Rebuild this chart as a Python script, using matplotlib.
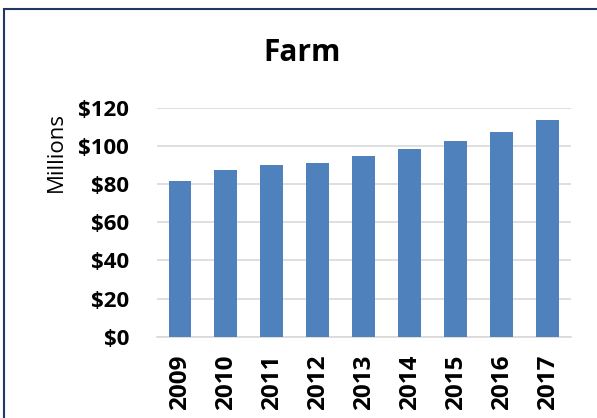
import matplotlib
matplotlib.use("Agg")
import matplotlib.pyplot as plt
from matplotlib.patches import Rectangle

years = ["2009", "2010", "2011", "2012", "2013", "2014", "2015", "2016", "2017"]
values = [81.4, 87.3, 89.9, 90.9, 94.6, 98.1, 102.7, 107.1, 113.4]
y_ticks = [0, 20, 40, 60, 80, 100, 120]

plt.rcParams['font.family'] = ['Open Sans', 'DejaVu Sans']

fig = plt.figure(figsize=(5.97, 4.18), dpi=100)
ax = fig.add_axes([0.263, 0.1945, 0.693, 0.548])

ax.bar(range(len(years)), values, width=0.5, color="#4f81bd", zorder=3)
ax.set_xlim(-0.5, len(years) - 0.5)
ax.set_ylim(0, 120)
ax.set_yticks(y_ticks)
ax.set_yticklabels(["$%d" % v for v in y_ticks], fontsize=16, fontweight="bold")
ax.set_xticks(range(len(years)))
ax.set_xticklabels(years, rotation=90, fontsize=17.5, fontweight="bold")
ax.tick_params(axis="y", length=0, pad=20)
ax.tick_params(axis="x", length=0, pad=13)
ax.grid(axis="y", color="#d9d9d9", linewidth=1.2, zorder=0)
for s in ["top", "right", "left"]:
    ax.spines[s].set_visible(False)
ax.spines["bottom"].set_color("#d9d9d9")
ax.spines["bottom"].set_linewidth(1.2)

fig.text(56 / 597, 1 - 152 / 418, "Millions", rotation=90, ha="center", va="center", fontsize=16)
fig.text(302 / 597, 1 - 53 / 418, "Farm", ha="center", va="center", fontsize=21.5, fontweight="bold")

# chart border (cut off on right and bottom)
fig.patches.append(Rectangle((4 / 597, -0.05), 1.1, (418 - 9) / 418 + 0.05,
                             transform=fig.transFigure, fill=False,
                             edgecolor="#1f3864", linewidth=1.5))

fig.savefig("out.png", dpi=100)
